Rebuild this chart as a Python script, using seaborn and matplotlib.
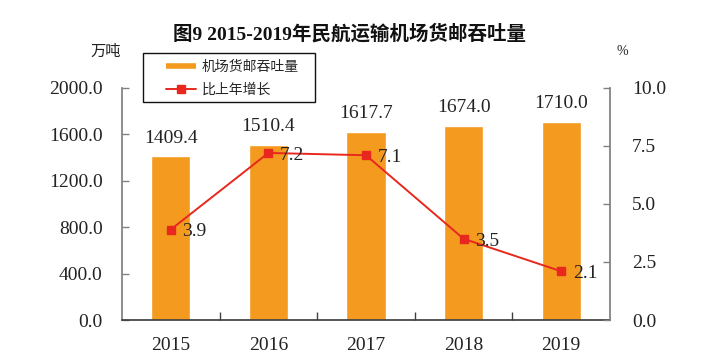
"""Airport cargo & mail throughput 2015-2019, bars + growth line."""
import matplotlib

matplotlib.use("Agg")
import matplotlib.pyplot as plt
import matplotlib.ticker as mticker
from matplotlib.lines import Line2D
from matplotlib.patches import Rectangle
import numpy as np
import pandas as pd
import seaborn as sns

sns.set_theme(style="white")
plt.rcParams["font.family"] = ["Liberation Serif", "Noto Sans CJK SC"]

years = ["2015", "2016", "2017", "2018", "2019"]
volume = [1409.4, 1510.4, 1617.7, 1674.0, 1710.0]  # 万吨
growth = [3.9, 7.2, 7.1, 3.5, 2.1]                 # %
left_ticks = [0, 400, 800, 1200, 1600, 2000]
right_ticks = [0, 2.5, 5.0, 7.5, 10.0]

BAR = "#F39A1F"
RED = "#E8281E"
df = pd.DataFrame({"year": years, "volume": volume, "growth": growth})

fig = plt.figure(figsize=(7.03, 3.62), dpi=100)
ax = fig.add_axes([0.1735, 0.116, 0.6942, 0.641])

sns.barplot(data=df, x="year", y="volume", color=BAR, width=0.4,
            saturation=1, ax=ax)
ax.set_ylim(0, 2000)
ax.set_xlim(-0.5, len(years) - 0.5)
ax.set_yticks(left_ticks)
ax.yaxis.set_major_formatter(mticker.FormatStrFormatter("%.1f"))
ax.set_xlabel("")
ax.set_ylabel("")
for i, v in enumerate(volume):
    ax.text(i, v + 85, f"{v:.1f}", ha="center", va="bottom", fontsize=14,
            color="#222")

ax2 = ax.twinx()
pos = np.arange(len(years))
ax2.plot(pos, growth, color=RED, lw=1.4, marker="s", ms=6, mec=RED, mfc=RED)
ax2.set_ylim(0, 10)
ax2.set_yticks(right_ticks)
ax2.yaxis.set_major_formatter(mticker.FormatStrFormatter("%.1f"))
for i, g in enumerate(growth):
    ax2.text(i + 0.12, g - 0.1, f"{g:.1f}", ha="left", va="center",
             fontsize=14, color="#222")

# spines & ticks
for a in (ax, ax2):
    a.spines["top"].set_visible(False)
    a.spines["left"].set_color("#808080")
    a.spines["right"].set_color("#808080")
    a.spines["bottom"].set_color("#404040")
    a.grid(False)
ax2.spines["left"].set_visible(False)
ax2.spines["bottom"].set_visible(False)
ax.spines["right"].set_visible(False)

ax.tick_params(axis="y", direction="in", length=5, width=1, color="#808080",
               pad=14, labelsize=14, labelcolor="#222", left=True)
ax2.tick_params(axis="y", direction="in", length=5, width=1, color="#808080",
                pad=16, labelsize=14, labelcolor="#222", right=True)
ax.tick_params(axis="x", which="major", length=0, pad=12, labelsize=14,
               labelcolor="#222")
ax.set_xticks(np.arange(0.5, len(years) - 1, 1.0), minor=True)
ax.tick_params(axis="x", which="minor", direction="in", length=6, width=1,
               color="#404040", bottom=True)

fig.text(0.497, 0.908, "图9 2015-2019年民航运输机场货邮吞吐量", ha="center",
         va="center", fontsize=14, fontweight="bold", color="#111")
fig.text(0.150, 0.858, "万吨", ha="center", va="center", fontsize=11,
         color="#222")
fig.text(0.885, 0.858, "%", ha="center", va="center", fontsize=10,
         color="#222")

# legend: square frame drawn separately so its padding matches the original
fig.add_artist(Rectangle((0.2034, 0.7182), 0.2447, 0.1354,
                         transform=fig.transFigure, fill=False,
                         edgecolor="#111", lw=1.0))
handles = [
    Line2D([], [], color=BAR, lw=4, solid_capstyle="butt"),
    Line2D([], [], color=RED, lw=1.4, marker="s", ms=6),
]
leg = fig.legend(handles, ["机场货邮吞吐量", "比上年增长"],
                 loc="upper left", bbox_to_anchor=(0.226, 0.855),
                 frameon=False, fontsize=10,
                 handlelength=2.2, handletextpad=0.4, borderpad=0.5,
                 labelspacing=0.7, borderaxespad=0)
for t in leg.get_texts():
    t.set_family(["Noto Sans CJK SC"])

fig.savefig("out.png", dpi=100)
plt.close(fig)
